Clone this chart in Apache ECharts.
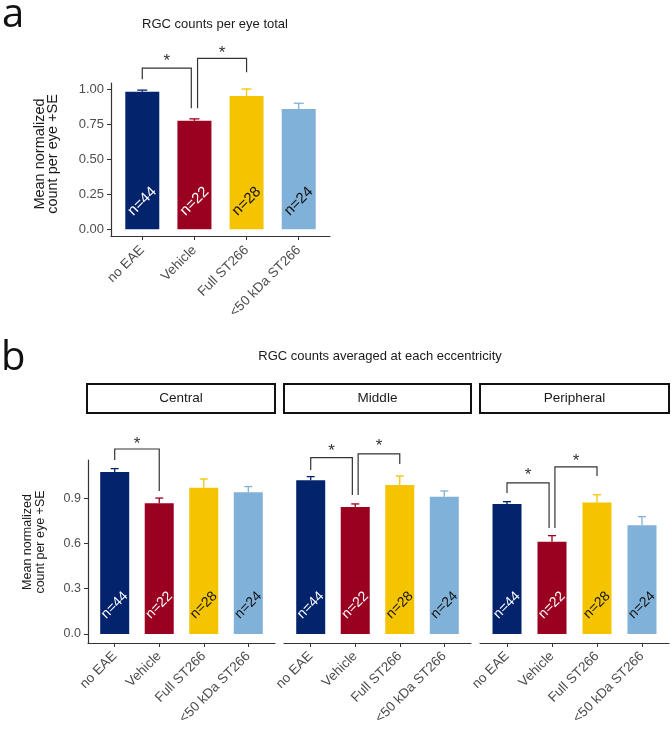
<!DOCTYPE html>
<html>
<head>
<meta charset="utf-8">
<script src="https://cdn.jsdelivr.net/npm/echarts@6/dist/echarts.min.js"></script>
<style>html,body{margin:0;padding:0;background:#fff;}#chart{width:671px;height:731px;}</style>
</head>
<body>
<div id="chart"></div>
<script>
// ---- data ----
const categories = ['no EAE', 'Vehicle', 'Full ST266', '<50 kDa ST266'];
const nLabels = ['n=44', 'n=22', 'n=28', 'n=24'];
const totalMean = [0.985, 0.777, 0.955, 0.862];
const totalSE = [0.012, 0.014, 0.050, 0.041];
const centralMean = [1.073, 0.866, 0.969, 0.938];
const centralSE = [0.022, 0.034, 0.057, 0.038];
const middleMean = [1.018, 0.841, 0.987, 0.909];
const middleSE = [0.024, 0.020, 0.059, 0.038];
const peripheralMean = [0.861, 0.611, 0.870, 0.720];
const peripheralSE = [0.015, 0.040, 0.052, 0.057];
const facetNames = ['Central', 'Middle', 'Peripheral'];
const totalTicks = [0, 0.25, 0.5, 0.75, 1.0];
const eccTicks = [0, 0.3, 0.6, 0.9];
// significance brackets: [x1, x2, top, leftEnd, rightEnd, starY]
const totalBrackets = [[1, 1.94, 1.154, 1.075, 0.868, 1.229], [2.06, 3, 1.225, 0.868, 1.125, 1.286]];
const centralBrackets = [[1, 2, 1.225, 1.152, 0.947, 1.285]];
const middleBrackets = [[1, 1.935, 1.168, 1.086, 0.921, 1.238], [2.065, 3, 1.192, 0.921, 1.126, 1.272]];
const peripheralBrackets = [[1, 1.935, 1.000, 0.934, 0.702, 1.080], [2.065, 3, 1.106, 0.702, 1.046, 1.172]];

// ---- styles ----
const colors = ['#03236C', '#9A0020', '#F5C400', '#80B1D8'];
const nColors = ['#ffffff', '#ffffff', '#111111', '#111111'];
const FONT = '"Liberation Sans", Arial, sans-serif';
const AXIS = '#333333';
const TXT = '#4D4D4D';

const chart = echarts.init(document.getElementById('chart'));

const grids = [
  {left: 111, top: 83, width: 219, height: 153},
  {left: 88, top: 460, width: 187, height: 183},
  {left: 284, top: 460, width: 187, height: 183},
  {left: 480, top: 460, width: 189, height: 183}
];
const panels = [
  {mean: totalMean, se: totalSE, br: totalBrackets, ticks: totalTicks, min: -0.048, max: 1.048, dec: 2, barW: 34, cap: 5, nY: 0.2, nSize: 15, xSize: 13.5, xMargin: 12},
  {mean: centralMean, se: centralSE, br: centralBrackets, ticks: eccTicks, min: -0.06, max: 1.152, dec: 1, barW: 29, cap: 4, nY: 0.19, nSize: 14, xSize: 13.5, xMargin: 11},
  {mean: middleMean, se: middleSE, br: middleBrackets, ticks: eccTicks, min: -0.06, max: 1.152, dec: 1, barW: 29, cap: 4, nY: 0.19, nSize: 14, xSize: 13.5, xMargin: 11},
  {mean: peripheralMean, se: peripheralSE, br: peripheralBrackets, ticks: eccTicks, min: -0.06, max: 1.152, dec: 1, barW: 29, cap: 4, nY: 0.19, nSize: 14, xSize: 13.5, xMargin: 11}
];
const catIdx = categories.map((c, i) => i + 1);

const xAxes = [], yAxes = [], series = [];
panels.forEach((p, g) => {
  xAxes.push({
    type: 'value', gridIndex: g, min: 0.4, max: 4.6,
    splitLine: {show: false},
    axisLine: {show: true, onZero: false, lineStyle: {color: AXIS, width: 1.2}},
    axisTick: {show: true, customValues: catIdx, length: 4, lineStyle: {color: AXIS, width: 1}},
    axisLabel: {
      customValues: catIdx, rotate: 45, margin: p.xMargin, color: TXT, fontSize: p.xSize, fontFamily: FONT,
      formatter: v => categories[Math.round(v) - 1]
    }
  });
  yAxes.push({
    type: 'value', gridIndex: g, min: p.min, max: p.max, show: g <= 1,
    splitLine: {show: false},
    axisLine: {show: true, lineStyle: {color: AXIS, width: 1.2}},
    axisTick: {show: true, customValues: p.ticks, length: 4, lineStyle: {color: AXIS, width: 1}},
    axisLabel: {
      customValues: p.ticks, margin: 7, color: TXT, fontSize: g === 0 ? 13 : 12.5, fontFamily: FONT,
      formatter: v => v.toFixed(p.dec)
    }
  });
  // bars
  series.push({
    type: 'bar', xAxisIndex: g, yAxisIndex: g, barWidth: p.barW,
    data: p.mean.map((v, i) => ({value: [i + 1, v], itemStyle: {color: colors[i]}})),
    z: 2
  });
  // error bars (mean to mean + SE)
  series.push({
    type: 'custom', xAxisIndex: g, yAxisIndex: g, z: 1, clip: false,
    data: p.mean.map((v, i) => [i + 1, v, p.se[i]]),
    renderItem: (params, api) => {
      const x = api.value(0), m = api.value(1), s = api.value(2);
      const p0 = api.coord([x, m]), p1 = api.coord([x, m + s]);
      const c = colors[params.dataIndex];
      return {type: 'group', children: [
        {type: 'line', shape: {x1: p0[0], y1: p0[1], x2: p1[0], y2: p1[1]}, style: {stroke: c, lineWidth: 1.3}},
        {type: 'line', shape: {x1: p1[0] - p.cap, y1: p1[1], x2: p1[0] + p.cap, y2: p1[1]}, style: {stroke: c, lineWidth: 1.3}}
      ]};
    }
  });
  // n labels
  series.push({
    type: 'custom', xAxisIndex: g, yAxisIndex: g, z: 5, clip: false,
    data: nLabels.map((t, i) => [i + 1, p.nY]),
    renderItem: (params, api) => {
      const pt = api.coord([api.value(0), api.value(1)]);
      return {type: 'text', x: pt[0], y: pt[1], rotation: Math.PI / 4,
        style: {text: nLabels[params.dataIndex], fill: nColors[params.dataIndex], fontSize: p.nSize,
          fontFamily: FONT, align: 'center', verticalAlign: 'middle'}};
    }
  });
  // significance brackets
  series.push({
    type: 'custom', xAxisIndex: g, yAxisIndex: g, z: 5, clip: false,
    data: p.br,
    renderItem: (params, api) => {
      const x1 = api.value(0), x2 = api.value(1), top = api.value(2), yl = api.value(3), yr = api.value(4), sy = api.value(5);
      const a = api.coord([x1, yl]), b = api.coord([x1, top]), c = api.coord([x2, top]), d = api.coord([x2, yr]);
      const s = api.coord([(x1 + x2) / 2, sy]);
      return {type: 'group', children: [
        {type: 'polyline', shape: {points: [a, b, c, d]}, style: {stroke: '#333', lineWidth: 1.2, fill: null}},
        {type: 'text', x: s[0], y: s[1] + 4, style: {text: '*', fontSize: 17, fontFamily: FONT, fill: '#333', align: 'center', verticalAlign: 'middle'}}
      ]};
    }
  });
});

const graphics = [
  {type: 'text', left: 2, top: -4, style: {text: 'a', fontSize: 40, fontFamily: '"Open Sans", sans-serif', fill: '#111'}},
  {type: 'text', left: 1, top: 339, style: {text: 'b', fontSize: 40, fontFamily: '"Open Sans", sans-serif', fill: '#111'}},
  {type: 'text', x: 215, y: 24, style: {text: 'RGC counts per eye total', fontSize: 13, fontFamily: FONT, fill: '#1a1a1a', align: 'center', verticalAlign: 'middle'}},
  {type: 'text', x: 380, y: 356, style: {text: 'RGC counts averaged at each eccentricity', fontSize: 13, fontFamily: FONT, fill: '#1a1a1a', align: 'center', verticalAlign: 'middle'}},
  {type: 'text', x: 46, y: 154, rotation: Math.PI / 2, style: {text: 'Mean normalized\ncount per eye +SE', fontSize: 14.5, lineHeight: 13, fontFamily: FONT, fill: '#1a1a1a', align: 'center', verticalAlign: 'middle'}},
  {type: 'text', x: 34, y: 542, rotation: Math.PI / 2, style: {text: 'Mean normalized\ncount per eye +SE', fontSize: 12.5, lineHeight: 13, fontFamily: FONT, fill: '#1a1a1a', align: 'center', verticalAlign: 'middle'}}
];
const strips = [[87, 188], [284, 187], [480, 189]];
strips.forEach((s, i) => {
  graphics.push({type: 'rect', shape: {x: s[0], y: 384, width: s[1], height: 29}, style: {fill: '#fff', stroke: '#111', lineWidth: 2}});
  graphics.push({type: 'text', x: s[0] + s[1] / 2, y: 398.5, style: {text: facetNames[i], fontSize: 13.5, fontFamily: FONT, fill: '#1a1a1a', align: 'center', verticalAlign: 'middle'}});
});

chart.setOption({
  animation: false,
  backgroundColor: '#fff',
  grid: grids.map(g => Object.assign({outerBoundsMode: 'none', containLabel: false}, g)),
  xAxis: xAxes,
  yAxis: yAxes,
  series: series,
  graphic: graphics
});
</script>
</body>
</html>
